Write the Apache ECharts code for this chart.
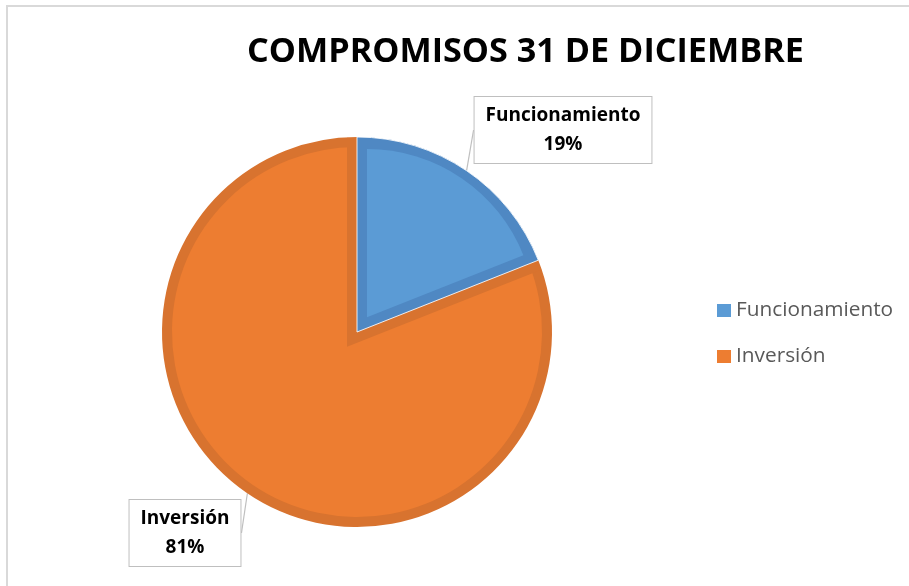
<!DOCTYPE html>
<html>
<head>
<meta charset="utf-8">
<title>Compromisos 31 de diciembre</title>
<script src="https://cdn.jsdelivr.net/npm/echarts@6/dist/echarts.min.js"></script>
<style>
  html, body { margin: 0; padding: 0; background: #fff; }
  #main { width: 909px; height: 586px; }
</style>
</head>
<body>
<div id="main"></div>
<script>
// datos del grafico
var categorias = ['Funcionamiento', 'Inversión'];
var valores = [19, 81];

// colores: relleno y borde interior de cada porcion
var rellenos = ['#5b9bd5', '#ed7d31'];
var bordes = ['#4f88c3', '#d8732f'];
var nada = 'rgba(0,0,0,0)';

// geometria del pastel
var cx = 357, cy = 332, R = 195, grosor = 10;
var total = valores[0] + valores[1];
var medio = valores[0] / total * Math.PI;          // mitad del angulo de la primera porcion
var d = grosor / Math.sin(medio);                  // corrimiento del vertice para el borde interior
var ux = Math.sin(medio), uy = -Math.cos(medio);   // bisectriz de la primera porcion
var rCola = d * Math.cos(medio) + Math.sqrt(R * R - grosor * grosor) - 0.5;

// posiciones de las etiquetas (centro de cada cuadro)
var posEtiquetas = [[563, 130], [185, 533]];

function capa(centro, radio, colores, extra) {
  var s = {
    type: 'pie',
    center: centro,
    radius: radio,
    startAngle: 90,
    clockwise: true,
    silent: true,
    avoidLabelOverlap: false,
    label: { show: false },
    labelLine: { show: false },
    emphasis: { disabled: true },
    data: categorias.map(function (c, i) {
      var it = { name: c, value: valores[i], itemStyle: { color: colores[i], borderWidth: 0 } };
      if (extra && extra[i]) it.itemStyle = Object.assign(it.itemStyle, extra[i]);
      return it;
    })
  };
  return s;
}

var chart = echarts.init(document.getElementById('main'), null, { renderer: 'canvas' });

// capa base: porciones completas en color oscuro, con etiquetas
var base = capa([cx, cy], R, bordes);
base.silent = false;
base.label = {
  show: true,
  position: 'outside',
  formatter: '{b}\n{d}%',
  fontFamily: 'Open Sans',
  fontWeight: 'bold',
  fontSize: 19,
  lineHeight: 29,
  color: '#000',
  align: 'center',
  backgroundColor: '#fff',
  borderColor: '#bfbfbf',
  borderWidth: 1,
  padding: [7, 11, 1, 11]
};
base.labelLine = { show: true, length: 0, length2: 0, smooth: false, lineStyle: { color: '#bfbfbf', width: 1.2 } };
base.labelLayout = function (p) {
  var pos = posEtiquetas[p.dataIndex];
  return { x: pos[0], y: pos[1], align: 'center', verticalAlign: 'middle' };
};

var option = {
  animation: false,
  backgroundColor: '#fff',
  title: {
    text: 'COMPROMISOS 31 DE DICIEMBRE',
    left: 247,
    top: 35,
    padding: 0,
    textStyle: { fontFamily: 'Open Sans', fontWeight: 'bold', fontSize: 34.2, color: '#000' }
  },
  legend: {
    orient: 'vertical',
    left: 717,
    top: 300,
    padding: 0,
    icon: 'rect',
    itemWidth: 14,
    itemHeight: 13,
    itemGap: 25,
    selectedMode: false,
    textStyle: { fontFamily: 'Open Sans', fontSize: 20.8, color: '#595959' },
    data: categorias.map(function (c, i) { return { name: c, itemStyle: { color: rellenos[i] } }; })
  },
  graphic: [{
    type: 'rect',
    silent: true,
    shape: { x: 7, y: 6, width: 1000, height: 1000 },
    style: { fill: 'none', stroke: '#d9d9d9', lineWidth: 2 }
  }],
  series: [
    base,
    // relleno claro de Inversion
    capa([cx, cy], R - grosor, [nada, rellenos[1]]),
    // banda oscura de Inversion a lo largo de los lados rectos
    capa([cx - d * ux, cy - d * uy], rCola, [bordes[1], nada]),
    // Funcionamiento oscuro, con linea clara de separacion
    capa([cx, cy], R, [bordes[0], nada], [{ borderColor: 'rgba(255,255,255,0.85)', borderWidth: 1 }, null]),
    // relleno claro de Funcionamiento
    capa([cx + d * ux, cy + d * uy], R - grosor - d + 1, [rellenos[0], nada])
  ]
};
chart.setOption(option);
</script>
</body>
</html>
